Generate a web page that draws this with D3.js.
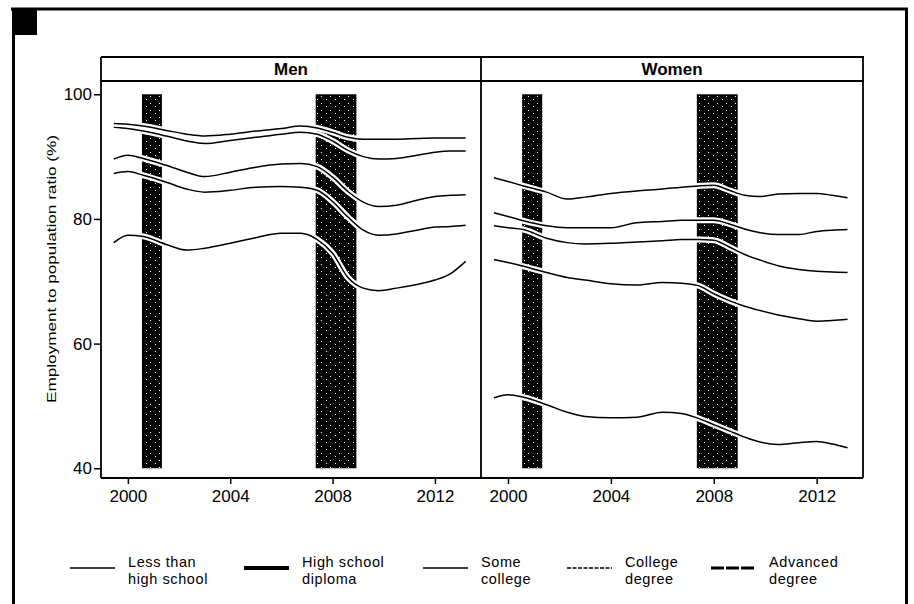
<!DOCTYPE html>
<html>
<head>
<meta charset="utf-8">
<script src="https://cdn.jsdelivr.net/npm/d3@7"></script>
<style>
  html, body { margin: 0; padding: 0; background: #fff; }
  svg { display: block; font-family: "Liberation Sans", Arial, sans-serif; }
</style>
</head>
<body>
<svg id="chart" width="914" height="604"></svg>
<script>
// ---------------- DATA ----------------
const panels = ["Men", "Women"];
const years = [1999.45, 2000, 2000.6, 2001.5, 2002.3, 2003, 2004, 2005, 2006, 2006.75,
               2007.4, 2008, 2008.6, 2009.2, 2009.8, 2010.5, 2011.3, 2012, 2012.6, 2013.2];
const seriesNames = ["Less than high school", "High school diploma", "Some college", "College degree", "Advanced degree"];

// Men
const menLessHS   = [76.2, 77.4, 77.2, 75.9, 75.0, 75.3, 76.1, 77.0, 77.7, 77.7, 76.7, 74.5, 70.6, 68.9, 68.5, 68.9, 69.5, 70.2, 71.2, 73.2];
const menHS       = [87.3, 87.6, 87.0, 85.9, 84.8, 84.3, 84.6, 85.1, 85.2, 85.1, 84.6, 82.8, 80.3, 78.2, 77.4, 77.6, 78.2, 78.7, 78.8, 79.0];
const menSomeCol  = [89.6, 90.2, 89.7, 88.6, 87.5, 86.8, 87.5, 88.3, 88.8, 88.9, 88.4, 86.7, 84.4, 82.7, 82.0, 82.2, 83.0, 83.6, 83.8, 83.9];
const menCollege  = [94.7, 94.5, 94.1, 93.3, 92.5, 92.1, 92.6, 93.1, 93.6, 93.9, 93.6, 92.5, 91.0, 90.0, 89.6, 89.7, 90.2, 90.7, 90.9, 90.9];
const menAdvanced = [95.3, 95.2, 94.9, 94.2, 93.6, 93.3, 93.6, 94.1, 94.5, 94.9, 94.6, 93.9, 93.1, 92.8, 92.8, 92.8, 92.9, 93.0, 93.0, 93.0];

// Women
const womenLessHS   = [51.3, 51.8, 51.4, 50.2, 49.0, 48.3, 48.1, 48.2, 49.0, 48.8, 48.0, 47.0, 46.0, 45.0, 44.2, 43.8, 44.1, 44.3, 43.9, 43.3];
const womenHS       = [73.5, 73.0, 72.4, 71.4, 70.6, 70.2, 69.6, 69.4, 69.8, 69.7, 69.3, 68.0, 66.9, 66.0, 65.3, 64.6, 64.0, 63.6, 63.7, 63.9];
const womenSomeCol  = [78.9, 78.6, 78.3, 76.9, 76.2, 76.0, 76.1, 76.3, 76.5, 76.7, 76.7, 76.6, 75.5, 74.3, 73.4, 72.5, 71.9, 71.6, 71.5, 71.4];
const womenCollege  = [81.0, 80.4, 79.7, 78.9, 78.6, 78.6, 78.6, 79.4, 79.6, 79.8, 79.8, 79.8, 79.2, 78.4, 77.8, 77.5, 77.5, 78.0, 78.2, 78.3];
const womenAdvanced = [86.6, 86.0, 85.3, 84.3, 83.2, 83.5, 84.1, 84.5, 84.8, 85.1, 85.3, 85.4, 84.6, 83.8, 83.6, 84.0, 84.1, 84.1, 83.8, 83.4];

// Recession bands (start, end), as drawn
const recessionStart = [2000.55, 2007.34];
const recessionEnd   = [2001.33, 2008.93];
const recessionBottom = 40, recessionTop = 100;

const yTicks = [40, 60, 80, 100];
const xTicks = [2000, 2004, 2008, 2012];
const yLabel = "Employment to population ratio (%)";
const legendLabels = [["Less than", "high school"], ["High school", "diploma"], ["Some", "college"], ["College", "degree"], ["Advanced", "degree"]];

// ---------------- DRAW ----------------
const svg = d3.select("#chart");
const FONT = '"Liberation Sans", Arial, sans-serif';

svg.append("rect").attr("width", 914).attr("height", 604).attr("fill", "#fff");

// outer frame
svg.append("line").attr("x1", 11).attr("x2", 908).attr("y1", 9).attr("y2", 9).attr("stroke", "#000").attr("stroke-width", 3);
svg.append("line").attr("x1", 13.5).attr("x2", 13.5).attr("y1", 8).attr("y2", 604).attr("stroke", "#000").attr("stroke-width", 3);
svg.append("line").attr("x1", 906.5).attr("x2", 906.5).attr("y1", 8).attr("y2", 604).attr("stroke", "#000").attr("stroke-width", 3);
svg.append("rect").attr("x", 12).attr("y", 8).attr("width", 25).attr("height", 27).attr("fill", "#000");

// stipple pattern for recession bands (mostly black with sparse white specks)
const defs = svg.append("defs");
const pat = defs.append("pattern").attr("id", "stip").attr("patternUnits", "userSpaceOnUse")
  .attr("width", 9).attr("height", 7);
pat.append("rect").attr("width", 9).attr("height", 7).attr("fill", "#000");
pat.append("rect").attr("x", 2).attr("y", 1).attr("width", 1).attr("height", 1).attr("fill", "#fff");
pat.append("rect").attr("x", 6).attr("y", 5).attr("width", 1).attr("height", 1).attr("fill", "#fff");

const y = d3.scaleLinear().domain([38.44, 102.13]).range([478, 81]);
const panelRanges = [[101, 481], [481, 863]];
const xDomain = [1998.95, 2013.8];

const data = {
  Men:   [menLessHS, menHS, menSomeCol, menCollege, menAdvanced],
  Women: [womenLessHS, womenHS, womenSomeCol, womenCollege, womenAdvanced]
};

panels.forEach((p, pi) => {
  const x = d3.scaleLinear().domain(xDomain).range(panelRanges[pi]);
  const g = svg.append("g");

  // recession bands
  g.selectAll("rect.rec").data(recessionStart).join("rect").attr("class", "rec")
    .attr("x", (d) => x(d))
    .attr("width", (d, i) => x(recessionEnd[i]) - x(d))
    .attr("y", y(recessionTop))
    .attr("height", y(recessionBottom) - y(recessionTop))
    .attr("fill", "url(#stip)");

  const line = d3.line().x((d, i) => x(years[i])).y((d) => y(d)).curve(d3.curveMonotoneX);

  data[p].forEach((vals) => {
    g.append("path").attr("d", line(vals)).attr("fill", "none")
      .attr("stroke", "#fff").attr("stroke-width", 6).attr("stroke-linejoin", "round");
    g.append("path").attr("d", line(vals)).attr("fill", "none")
      .attr("stroke", "#000").attr("stroke-width", 1.5).attr("stroke-linejoin", "round");
  });

  // x axis
  const xa = g.append("g").attr("transform", "translate(0,478)")
    .call(d3.axisBottom(x).tickValues(xTicks).tickFormat(d3.format("d")).tickSize(6).tickSizeOuter(0).tickPadding(6));
  xa.select(".domain").remove();
  xa.selectAll("line").attr("stroke", "#000").attr("stroke-width", 1.5);
  xa.selectAll("text").attr("font-size", 17).attr("font-family", FONT).attr("fill", "#000");

  // strip label
  const [r0, r1] = panelRanges[pi];
  svg.append("text").attr("x", (r0 + r1) / 2).attr("y", 75)
    .attr("text-anchor", "middle").attr("font-size", 17).attr("font-weight", "bold")
    .attr("font-family", FONT).text(p);
});

// y axis (men panel only)
const ya = svg.append("g").attr("transform", "translate(101,0)")
  .call(d3.axisLeft(y).tickValues(yTicks).tickSize(7).tickSizeOuter(0).tickPadding(2));
ya.select(".domain").remove();
ya.selectAll("line").attr("stroke", "#000").attr("stroke-width", 1.5);
ya.selectAll("text").attr("font-size", 17).attr("font-family", FONT).attr("fill", "#000");

// panel frame lines
const frame = svg.append("g").attr("stroke", "#000").attr("stroke-width", 1.8);
frame.append("line").attr("x1", 101).attr("x2", 864).attr("y1", 57).attr("y2", 57);
frame.append("line").attr("x1", 101).attr("x2", 864).attr("y1", 81).attr("y2", 81);
frame.append("line").attr("x1", 101).attr("x2", 863).attr("y1", 478).attr("y2", 478);
frame.append("line").attr("x1", 101).attr("x2", 101).attr("y1", 57).attr("y2", 478);
frame.append("line").attr("x1", 481).attr("x2", 481).attr("y1", 57).attr("y2", 478);
frame.append("line").attr("x1", 863).attr("x2", 863).attr("y1", 57).attr("y2", 478);

// y label
svg.append("text").attr("transform", "translate(56,269) rotate(-90)")
  .attr("text-anchor", "middle").attr("font-size", 12).attr("font-family", FONT)
  .attr("textLength", 268).attr("lengthAdjust", "spacingAndGlyphs")
  .text(yLabel);

// legend
const legendStyles = [
  { w: 1.5, dash: null },
  { w: 4, dash: null },
  { w: 1.5, dash: null },
  { w: 1.5, dash: "4,1.5" },
  { w: 3, dash: "13,2" }
];
const legendX = [70, 244, 423, 567, 711];
const ly = 568;
legendLabels.forEach((lab, i) => {
  const st = legendStyles[i];
  const lx = legendX[i];
  const ln = svg.append("line").attr("x1", lx).attr("x2", lx + 45).attr("y1", ly).attr("y2", ly)
    .attr("stroke", "#000").attr("stroke-width", st.w);
  if (st.dash) ln.attr("stroke-dasharray", st.dash);
  const tx = lx + 58;
  svg.append("text").attr("x", tx).attr("y", 567)
    .attr("font-size", 14.5).attr("letter-spacing", 0.6).attr("font-family", FONT).attr("fill", "#000").text(lab[0]);
  svg.append("text").attr("x", tx).attr("y", 584)
    .attr("font-size", 14.5).attr("letter-spacing", 0.6).attr("font-family", FONT).attr("fill", "#000").text(lab[1]);
});
</script>
</body>
</html>
